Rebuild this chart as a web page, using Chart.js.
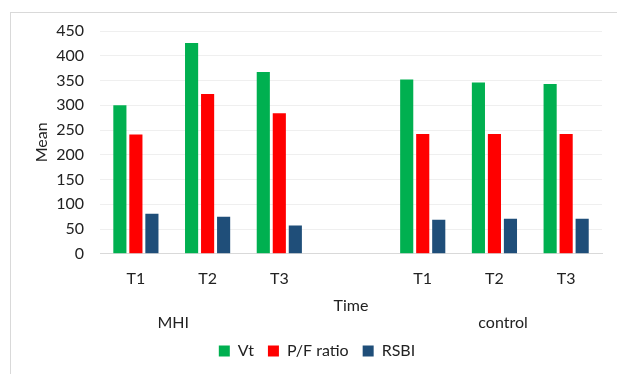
<!DOCTYPE html>
<html>
<head>
<meta charset="utf-8">
<script src="https://cdn.jsdelivr.net/npm/chart.js@4"></script>
<style>
  body { margin: 0; background: #fff; }
  #wrap { position: relative; width: 617px; height: 374px; }
  #frame { position: absolute; left: 10px; top: 12px; right: 0; bottom: 0; border-left: 1px solid #d9d9d9; border-top: 1px solid #d9d9d9; }
  canvas { position: absolute; left: 0; top: 0; }
</style>
</head>
<body>
<div id="wrap">
  <div id="frame"></div>
  <canvas id="chart" width="617" height="374"></canvas>
</div>
<script>
// categories (empty slot separates the two groups)
var categories = ["T1", "T2", "T3", "", "T1", "T2", "T3"];
var groupLabels = ["MHI", "control"];
var groupCenters = [0.52, 5.12];   // category index where each group label sits

var vtValues   = [300, 426, 367, null, 352, 346, 343];
var pfValues   = [241, 323, 284, null, 242, 242, 242];
var rsbiValues = [81, 75, 57, null, 69, 71, 71];

var yTicks = [0, 50, 100, 150, 200, 250, 300, 350, 400, 450];

var FONT = "Lato, 'Open Sans', sans-serif";
Chart.defaults.font.family = FONT;
Chart.defaults.color = "#222";

// draws the second row of category labels (group names)
var groupLabelPlugin = {
    id: "groupLabels",
    afterDraw: function(chart) {
        var ctx = chart.ctx;
        var xs = chart.scales.x;
        ctx.save();
        ctx.font = "16px " + FONT;
        ctx.fillStyle = "#222";
        ctx.textAlign = "center";
        ctx.textBaseline = "middle";
        for (var i = 0; i < groupLabels.length; i++) {
            ctx.fillText(groupLabels[i], xs.getPixelForValue(groupCenters[i]), chart.chartArea.bottom + 69);
        }
        ctx.restore();
    }
};

var ctx = document.getElementById("chart").getContext("2d");
var myChart = new Chart(ctx, {
    type: "bar",
    data: {
        labels: categories,
        datasets: [
            { label: "Vt", data: vtValues, backgroundColor: "#00b050" },
            { label: "P/F ratio", data: pfValues, backgroundColor: "#ff0000" },
            { label: "RSBI", data: rsbiValues, backgroundColor: "#1f4e79" }
        ]
    },
    options: {
        responsive: false,
        animation: false,
        layout: { padding: { left: 32, right: 15, top: 31, bottom: 5 } },
        datasets: { bar: { categoryPercentage: 0.67, barPercentage: 0.82 } },
        plugins: {
            tooltip: { enabled: false },
            legend: {
                position: "bottom",
                labels: { boxWidth: 11, boxHeight: 11, padding: 14, font: { size: 16 } }
            }
        },
        scales: {
            x: {
                grid: { display: false, drawTicks: false },
                border: { color: "#d9d9d9", width: 1 },
                ticks: { padding: 23, font: { size: 16, lineHeight: 0.25 } },
                title: { display: true, text: "Time", font: { size: 16 }, padding: { top: -8, bottom: 14 } }
            },
            y: {
                min: 0,
                max: 450,
                afterBuildTicks: function(axis) {
                    axis.ticks = yTicks.map(function(v) { return { value: v }; });
                },
                grid: { color: "#efefef", drawTicks: false },
                border: { display: false },
                ticks: { padding: 16, autoSkip: false, font: { size: 16 } },
                title: { display: true, text: "Mean", font: { size: 16 }, padding: { top: 0, bottom: -11 } }
            }
        }
    },
    plugins: [groupLabelPlugin]
});
</script>
</body>
</html>
